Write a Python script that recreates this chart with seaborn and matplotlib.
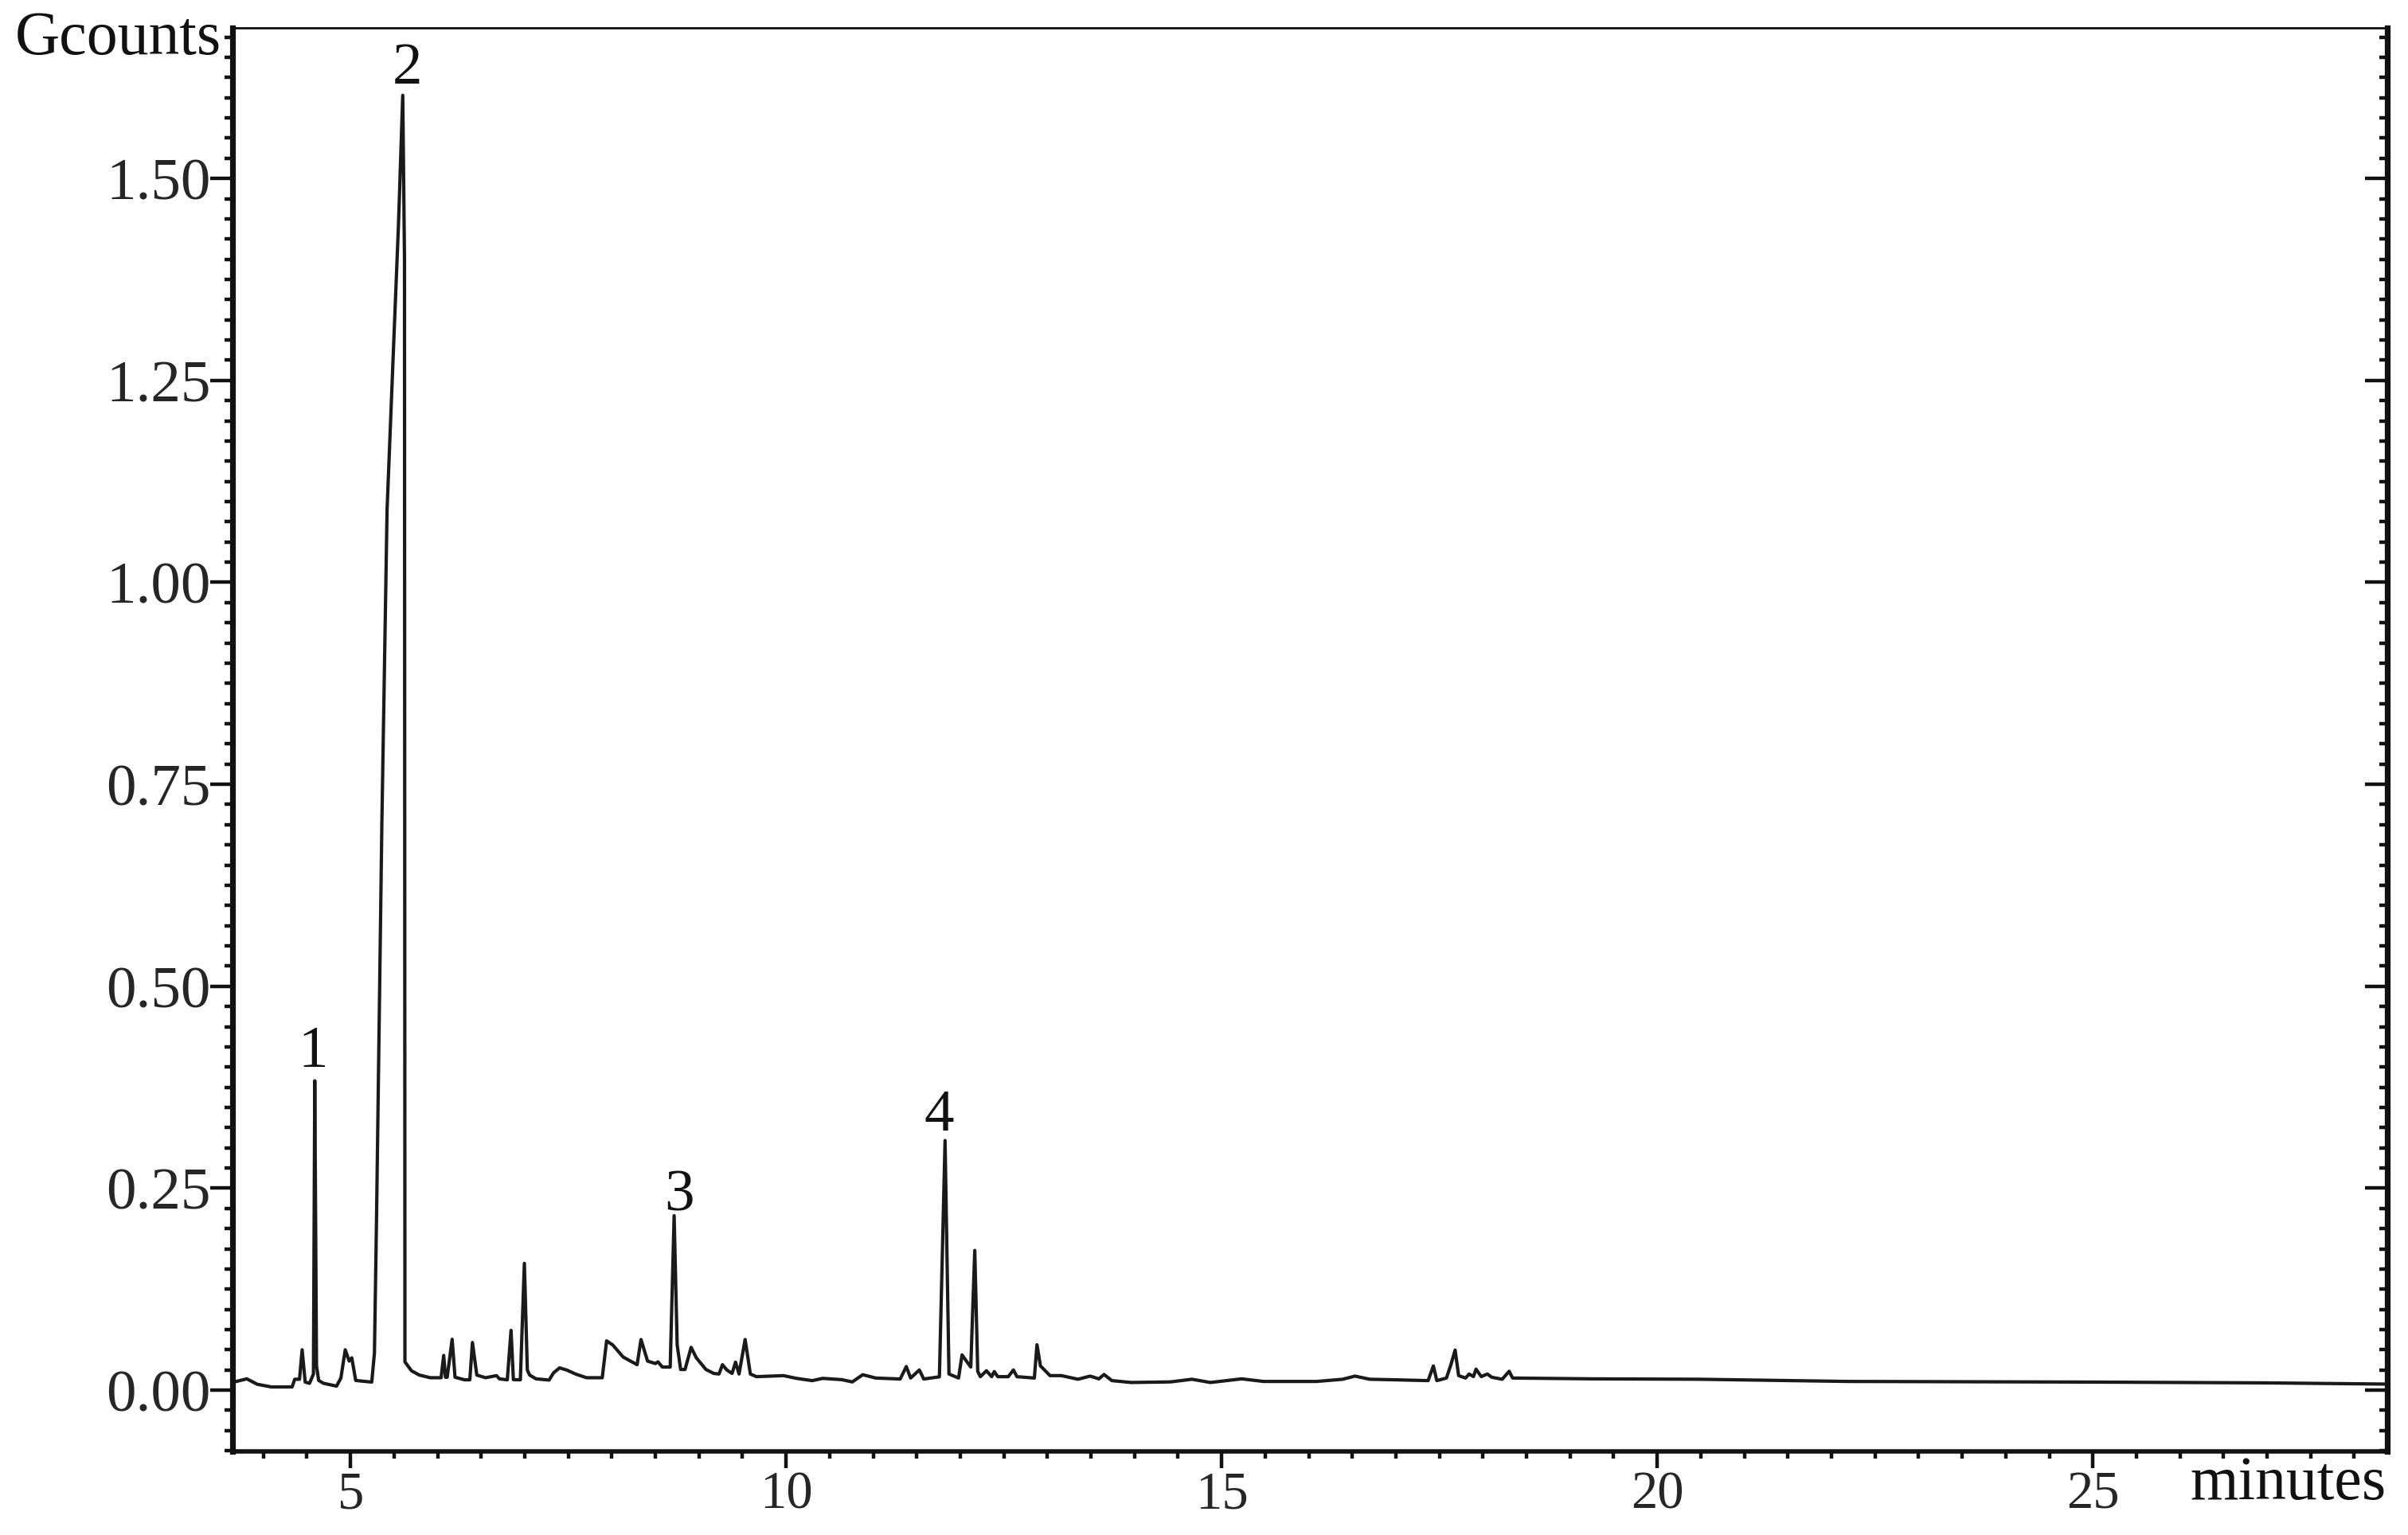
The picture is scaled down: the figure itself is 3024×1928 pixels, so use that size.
import numpy as np
import pandas as pd
import matplotlib
matplotlib.use('Agg')
import matplotlib.pyplot as plt
from matplotlib.ticker import MultipleLocator, FormatStrFormatter
import seaborn as sns

# retention time (minutes) and detector signal (Gcounts)
time_min = [3.66, 3.81, 3.93, 4.09, 4.33, 4.36, 4.415, 4.445, 4.48, 4.53,
            4.575, 4.59, 4.61, 4.635, 4.69, 4.84, 4.89, 4.94, 4.985, 5.015,
            5.06, 5.244, 5.275, 5.30, 5.36, 5.42, 5.49, 5.55, 5.60, 5.62,
            5.625, 5.70, 5.79, 5.915, 6.04, 6.07, 6.09, 6.11, 6.167, 6.20,
            6.22, 6.31, 6.37, 6.40, 6.45, 6.55, 6.676, 6.71, 6.80, 6.843,
            6.87, 6.95, 6.996, 7.03, 7.056, 7.13, 7.28, 7.33, 7.40, 7.48,
            7.59, 7.71, 7.89, 7.94, 8.01, 8.13, 8.29, 8.335, 8.41, 8.50,
            8.53, 8.58, 8.67, 8.715, 8.75, 8.79, 8.84, 8.91, 8.97, 9.08,
            9.17, 9.23, 9.27, 9.32, 9.38, 9.42, 9.46, 9.53, 9.59, 9.66,
            9.97, 10.12, 10.30, 10.42, 10.64, 10.76, 10.88, 11.03, 11.31, 11.38,
            11.43, 11.53, 11.58, 11.76, 11.825, 11.87, 11.98, 12.02, 12.07, 12.12,
            12.166, 12.20, 12.23, 12.30, 12.36, 12.39, 12.43, 12.55, 12.61, 12.65,
            12.85, 12.88, 12.92, 13.03, 13.16, 13.35, 13.49, 13.59, 13.65, 13.74,
            13.96, 14.41, 14.66, 14.87, 15.23, 15.48, 16.09, 16.39, 16.53, 16.70,
            17.00, 17.37, 17.43, 17.47, 17.58, 17.63, 17.68, 17.72, 17.80, 17.84,
            17.89, 17.92, 17.98, 18.05, 18.10, 18.22, 18.30, 18.34, 19.26, 20.48,
            22.18, 25.0, 27.0, 28.38]
signal = [0.010, 0.014, 0.0073, 0.004, 0.004, 0.0135, 0.0135, 0.050, 0.010, 0.0085,
          0.020, 0.383, 0.030, 0.012, 0.0085, 0.005, 0.015, 0.050, 0.036, 0.040,
          0.012, 0.010, 0.046, 0.22, 0.70, 1.09, 1.28, 1.44, 1.603, 1.40,
          0.035, 0.024, 0.0187, 0.0154, 0.0154, 0.043, 0.016, 0.016, 0.063, 0.016,
          0.0154, 0.0128, 0.0128, 0.059, 0.0187, 0.0154, 0.018, 0.014, 0.0128, 0.074,
          0.013, 0.0128, 0.157, 0.025, 0.0187, 0.014, 0.0125, 0.0213, 0.0276, 0.025,
          0.0197, 0.0154, 0.0154, 0.061, 0.056, 0.041, 0.0315, 0.0627, 0.036, 0.033,
          0.035, 0.0286, 0.0286, 0.216, 0.056, 0.0256, 0.0256, 0.053, 0.040, 0.0256,
          0.0207, 0.020, 0.0315, 0.025, 0.0207, 0.0347, 0.020, 0.0627, 0.020, 0.0167,
          0.018, 0.0146, 0.0118, 0.0146, 0.013, 0.0102, 0.0191, 0.015, 0.0138, 0.0292,
          0.015, 0.025, 0.0138, 0.0165, 0.309, 0.020, 0.015, 0.0437, 0.036, 0.0286,
          0.173, 0.0233, 0.0167, 0.024, 0.0167, 0.023, 0.0167, 0.0167, 0.025, 0.0167,
          0.015, 0.0562, 0.030, 0.018, 0.018, 0.0135, 0.0174, 0.014, 0.0194, 0.0118,
          0.0095, 0.0102, 0.0135, 0.0095, 0.014, 0.0108, 0.0108, 0.0135, 0.0174, 0.0135,
          0.0128, 0.0118, 0.030, 0.0118, 0.015, 0.031, 0.0496, 0.018, 0.015, 0.020,
          0.0168, 0.026, 0.0168, 0.020, 0.016, 0.0135, 0.0234, 0.015, 0.014, 0.0135,
          0.0108, 0.010, 0.009, 0.0075]

peak_ids = ['1', '2', '3', '4']
peak_label_t = [4.57, 5.65, 8.77, 11.76]
peak_label_v = [0.401, 1.618, 0.223, 0.322]

sns.set_style('ticks')
plt.rcParams['font.family'] = ['Liberation Serif', 'DejaVu Serif']

df = pd.DataFrame({'minutes': time_min, 'Gcounts': signal})

fig = plt.figure(figsize=(15.12, 9.643), dpi=200)
ax = fig.add_axes([0.0966, 0.0544, 0.8948, 0.9269])
sns.lineplot(data=df, x='minutes', y='Gcounts', color='#1a1a1a', linewidth=1.5,
             sort=False, estimator=None, ax=ax)
ax.set_xlim(3.647, 28.38)
ax.set_ylim(-0.0759, 1.686)
ax.set_xlabel('')
ax.set_ylabel('')

ax.xaxis.set_major_locator(MultipleLocator(5))
ax.xaxis.set_minor_locator(MultipleLocator(0.5))
ax.yaxis.set_major_locator(MultipleLocator(0.25))
ax.yaxis.set_minor_locator(MultipleLocator(0.025))
ax.yaxis.set_major_formatter(FormatStrFormatter('%.2f'))

ax.tick_params(axis='x', which='major', direction='out', length=7.5, width=1.6,
               labelsize=24, pad=1, color='#111111')
ax.tick_params(axis='x', which='minor', direction='out', length=3.3, width=1.6, color='#111111')
ax.tick_params(axis='y', which='major', direction='out', length=10, width=1.6,
               labelsize=27, pad=0, color='#111111', right=False)
ax.tick_params(axis='y', which='minor', direction='out', length=3.6, width=1.6,
               color='#111111', right=False)

ax2 = ax.twinx()
ax2.set_ylim(ax.get_ylim())
ax2.yaxis.set_major_locator(MultipleLocator(0.25))
ax2.yaxis.set_minor_locator(MultipleLocator(0.025))
ax2.tick_params(axis='y', which='major', direction='in', length=10, width=1.6,
                labelright=False, color='#111111')
ax2.tick_params(axis='y', which='minor', direction='in', length=3.6, width=1.6,
                color='#111111')
for side in ['left', 'top', 'bottom']:
    ax2.spines[side].set_visible(False)
ax2.spines['right'].set_linewidth(2.6)
ax2.spines['right'].set_color('#111111')

ax.spines['right'].set_visible(False)
ax.spines['left'].set_linewidth(2.6)
ax.spines['bottom'].set_linewidth(2.0)
ax.spines['top'].set_linewidth(1.0)
for side in ['left', 'bottom', 'top']:
    ax.spines[side].set_color('#111111')

for lab, t, v in zip(peak_ids, peak_label_t, peak_label_v):
    ax.text(t, v, lab, ha='center', va='baseline', fontsize=27, color='#111111')

fig.text(19 / 3024, 1 - 68 / 1929, 'Gcounts', ha='left', va='baseline',
         fontsize=28, color='#111111')
fig.text(2996 / 3024, 1 - 1883 / 1929, 'minutes', ha='right', va='baseline',
         fontsize=28, color='#111111')

fig.savefig('out.png', dpi=200, facecolor='white')
